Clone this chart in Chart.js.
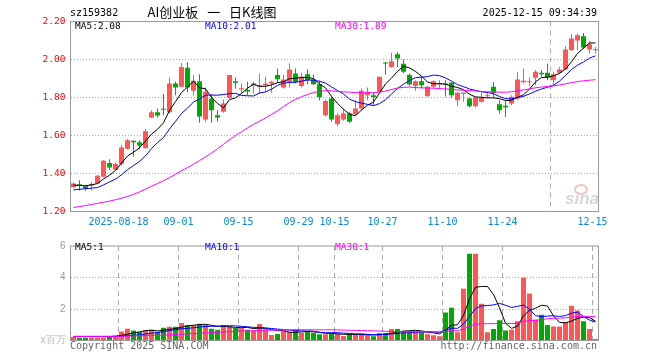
<!DOCTYPE html>
<html>
<head>
<meta charset="utf-8">
<script src="https://cdn.jsdelivr.net/npm/chart.js@4.4.1/dist/chart.umd.min.js"></script>
<style>
body{margin:0;background:#fff}
#box{position:relative;width:660px;height:360px;overflow:hidden;font-family:"DejaVu Sans Mono",monospace;font-size:10px;color:#000}
#box canvas{position:absolute;left:0}
.t{position:absolute;line-height:12px;white-space:nowrap}
</style>
</head>
<body>
<div id="box">
<canvas id="kline" width="660" height="235" style="top:0"></canvas>
<canvas id="vol" width="660" height="125" style="top:235px"></canvas>

<div class="t" style="left:70px;top:7px">sz159382</div>
<div class="t" style="left:112px;width:200px;top:5px;text-align:center;font-family:'Noto Sans CJK SC';font-size:13px;line-height:14px;word-spacing:6px">AI创业板 一 日K线图</div>
<div class="t" style="right:63px;top:7px">2025-12-15 09:34:39</div>

<div class="t" style="left:75px;top:20px;font-size:9.5px">MA5:2.08</div>
<div class="t" style="left:205px;top:20px;font-size:9.5px;color:#0000ff">MA10:2.01</div>
<div class="t" style="left:335px;top:20px;font-size:9.5px;color:#ff00ff">MA30:1.89</div>

<div class="t" style="left:75px;top:241px;font-size:9.5px">MA5:1</div>
<div class="t" style="left:205px;top:241px;font-size:9.5px;color:#0000ff">MA10:1</div>
<div class="t" style="left:335px;top:241px;font-size:9.5px;color:#ff00ff">MA30:1</div>

<div style="position:absolute;left:574px;top:184px;width:10px;height:7px;border:2px solid #f2c4c4;border-radius:50%"></div>
<div class="t" style="left:565px;top:192px;font:italic bold 17px 'Liberation Sans';line-height:14px;color:#d6d6d6">sina</div>

<div class="t" style="left:70px;top:340px;color:#666">Copyright 2025 SINA.COM</div>
<div class="t" style="right:63px;top:340px;color:#666">http://finance.sina.com.cn</div>
</div>

<script>
// trading days, 2025-08-06 .. 2025-12-15
var dates = [
  '08-06','08-07','08-08','08-11','08-12','08-13','08-14','08-15','08-18','08-19',
  '08-20','08-21','08-22','08-25','08-26','08-27','08-28','08-29','09-01','09-02',
  '09-03','09-04','09-05','09-08','09-09','09-10','09-11','09-12','09-15','09-16',
  '09-17','09-18','09-19','09-22','09-23','09-24','09-25','09-26','09-29','09-30',
  '10-09','10-10','10-13','10-14','10-15','10-16','10-17','10-20','10-21','10-22',
  '10-23','10-24','10-27','10-28','10-29','10-30','10-31','11-03','11-04','11-05',
  '11-06','11-07','11-10','11-11','11-12','11-13','11-14','11-17','11-18','11-19',
  '11-20','11-21','11-24','11-25','11-26','11-27','11-28','12-01','12-02','12-03',
  '12-04','12-05','12-08','12-09','12-10','12-11','12-12','12-15'
];
var tickDates = ['08-18','09-01','09-15','09-29','10-15','10-27','11-10','11-24','12-15'];
var tickTexts = ['2025-08-18','09-01','09-15','09-29','10-15','10-27','11-10','11-24','12-15'];

var opens = [
  1.328,1.343,1.333,1.337,1.347,1.383,1.455,1.420,1.450,1.530,
  1.572,1.565,1.533,1.695,1.723,1.740,1.723,1.874,1.856,1.956,
  1.835,1.886,1.684,1.793,1.707,1.725,1.798,1.886,1.842,1.839,
  1.865,1.856,1.865,1.874,1.918,1.853,1.882,1.926,1.860,1.923,
  1.895,1.870,1.707,1.795,1.660,1.684,1.716,1.712,1.742,1.812,
  1.812,1.830,1.982,1.961,2.028,1.977,1.918,1.861,1.886,1.807,
  1.856,1.868,1.874,1.877,1.786,1.818,1.795,1.754,1.777,1.807,
  1.856,1.765,1.756,1.768,1.795,1.880,1.880,1.904,1.930,1.930,
  1.891,1.930,1.947,2.049,2.100,2.123,2.053,2.049
];
var highs = [
  1.352,1.365,1.340,1.355,1.392,1.470,1.475,1.457,1.550,1.582,
  1.574,1.575,1.635,1.733,1.742,1.820,1.905,1.883,1.982,1.986,
  1.918,1.923,1.853,1.817,1.733,1.790,1.918,1.905,1.874,1.883,
  1.883,1.926,1.909,1.888,1.953,1.918,1.979,1.953,1.930,1.949,
  1.918,1.890,1.790,1.804,1.716,1.742,1.725,1.786,1.847,1.853,
  1.825,1.909,1.988,2.035,2.040,2.000,1.926,1.891,1.909,1.860,
  1.891,1.891,1.891,1.882,1.830,1.825,1.800,1.804,1.825,1.830,
  1.882,1.786,1.782,1.812,1.935,1.953,1.905,1.944,1.944,1.979,
  1.935,1.961,2.070,2.133,2.137,2.140,2.098,2.067
];
var lows = [
  1.325,1.310,1.310,1.310,1.343,1.380,1.420,1.418,1.440,1.527,
  1.490,1.527,1.530,1.692,1.695,1.707,1.716,1.812,1.853,1.828,
  1.810,1.667,1.670,1.667,1.672,1.720,1.795,1.847,1.820,1.812,
  1.820,1.820,1.830,1.825,1.877,1.847,1.853,1.874,1.853,1.870,
  1.865,1.786,1.700,1.672,1.649,1.677,1.667,1.707,1.730,1.786,
  1.760,1.825,1.921,1.958,1.961,1.928,1.862,1.835,1.847,1.804,
  1.851,1.847,1.804,1.800,1.754,1.777,1.747,1.747,1.772,1.795,
  1.800,1.716,1.698,1.760,1.786,1.874,1.860,1.865,1.909,1.891,
  1.865,1.926,1.944,2.046,2.049,2.055,2.032,2.032
];
var closes = [
  1.347,1.335,1.322,1.345,1.388,1.467,1.432,1.450,1.537,1.575,
  1.565,1.548,1.623,1.723,1.705,1.735,1.874,1.853,1.961,1.853,
  1.888,1.700,1.830,1.733,1.695,1.768,1.918,1.877,1.849,1.832,
  1.874,1.865,1.874,1.883,1.896,1.895,1.947,1.882,1.909,1.891,
  1.870,1.803,1.782,1.684,1.707,1.716,1.672,1.742,1.835,1.830,
  1.803,1.909,1.979,1.991,2.005,1.935,1.868,1.886,1.865,1.856,
  1.886,1.874,1.868,1.812,1.825,1.825,1.754,1.800,1.800,1.812,
  1.825,1.733,1.749,1.804,1.895,1.888,1.886,1.935,1.923,1.905,
  1.923,1.947,2.053,2.110,2.128,2.063,2.080,2.053
];
var ma5 = [
  1.339,1.337,1.335,1.340,1.347,1.371,1.391,1.416,1.455,1.492,
  1.512,1.535,1.570,1.607,1.633,1.667,1.732,1.778,1.826,1.855,
  1.886,1.851,1.846,1.801,1.769,1.745,1.789,1.798,1.821,1.849,
  1.870,1.859,1.859,1.866,1.878,1.883,1.899,1.901,1.906,1.905,
  1.900,1.871,1.851,1.806,1.769,1.738,1.712,1.704,1.734,1.759,
  1.776,1.824,1.871,1.902,1.937,1.964,1.956,1.937,1.912,1.882,
  1.872,1.873,1.870,1.859,1.853,1.841,1.817,1.803,1.801,1.798,
  1.798,1.794,1.784,1.785,1.801,1.814,1.844,1.882,1.905,1.907,
  1.914,1.927,1.950,1.988,2.032,2.060,2.087,2.087
];
var ma10 = [
  1.314,1.317,1.320,1.323,1.326,1.340,1.356,1.370,1.393,1.420,
  1.442,1.463,1.493,1.531,1.563,1.589,1.634,1.674,1.716,1.744,
  1.776,1.792,1.812,1.813,1.812,1.816,1.820,1.822,1.811,1.809,
  1.808,1.824,1.829,1.844,1.864,1.876,1.879,1.880,1.886,1.892,
  1.891,1.885,1.876,1.856,1.837,1.819,1.792,1.778,1.770,1.764,
  1.757,1.768,1.788,1.818,1.848,1.870,1.890,1.904,1.907,1.910,
  1.918,1.915,1.903,1.886,1.868,1.857,1.845,1.837,1.830,1.826,
  1.820,1.805,1.794,1.793,1.800,1.806,1.819,1.833,1.845,1.854,
  1.864,1.886,1.916,1.947,1.970,1.987,2.007,2.019
];
var ma30 = [
  1.221,1.226,1.231,1.237,1.243,1.249,1.255,1.262,1.270,1.279,
  1.290,1.303,1.318,1.333,1.347,1.362,1.378,1.396,1.414,1.431,
  1.449,1.468,1.487,1.508,1.530,1.554,1.578,1.600,1.620,1.640,
  1.658,1.675,1.692,1.710,1.730,1.752,1.773,1.790,1.804,1.816,
  1.826,1.833,1.836,1.835,1.832,1.830,1.828,1.826,1.825,1.825,
  1.825,1.828,1.834,1.842,1.850,1.853,1.855,1.852,1.851,1.850,
  1.849,1.847,1.845,1.843,1.840,1.838,1.836,1.834,1.832,1.830,
  1.829,1.828,1.828,1.830,1.835,1.840,1.845,1.851,1.855,1.858,
  1.861,1.866,1.872,1.878,1.884,1.888,1.891,1.894
];
// volume, millions of shares
var volumes = [
  0.22,0.18,0.18,0.18,0.18,0.18,0.22,0.22,0.57,0.75,
  0.63,0.55,0.63,0.69,0.55,0.81,0.87,0.87,1.11,0.99,
  0.99,1.07,0.99,0.75,0.69,0.99,0.91,0.79,0.79,0.69,
  0.63,1.05,0.71,0.35,0.41,0.59,0.55,0.69,0.47,0.59,
  0.47,0.39,0.39,0.43,0.43,0.29,0.39,0.39,0.39,0.33,
  0.27,0.47,0.47,0.73,0.73,0.59,0.59,0.59,0.53,0.39,
  0.33,0.27,1.78,2.08,0.53,3.28,5.51,5.51,2.34,0.53,
  0.73,1.29,0.63,0.69,1.23,4.00,2.98,1.33,1.64,0.99,
  0.89,0.89,1.17,2.20,1.90,1.23,0.73,0.09
];
var volMa5 = [
  0.25,0.25,0.25,0.25,0.25,0.25,0.25,0.27,0.33,0.40,
  0.48,0.54,0.63,0.65,0.61,0.65,0.71,0.76,0.84,0.93,
  0.97,1.01,1.03,0.96,0.90,0.90,0.87,0.83,0.83,0.83,
  0.76,0.79,0.77,0.69,0.63,0.62,0.52,0.52,0.54,0.58,
  0.55,0.52,0.46,0.45,0.42,0.39,0.39,0.39,0.38,0.36,
  0.35,0.37,0.39,0.45,0.53,0.60,0.62,0.65,0.61,0.54,
  0.49,0.42,0.66,0.97,1.00,1.59,2.64,3.38,3.43,3.43,
  2.92,2.08,1.10,0.77,0.91,1.57,1.91,2.05,2.24,2.19,
  1.57,1.15,1.12,1.23,1.41,1.48,1.45,1.23
];
var volMa10 = [
  0.26,0.26,0.26,0.26,0.26,0.26,0.26,0.27,0.29,0.31,
  0.33,0.37,0.41,0.46,0.50,0.56,0.63,0.69,0.75,0.77,
  0.81,0.86,0.89,0.90,0.91,0.93,0.94,0.93,0.90,0.87,
  0.83,0.83,0.80,0.76,0.73,0.69,0.66,0.65,0.61,0.60,
  0.59,0.52,0.49,0.50,0.50,0.47,0.45,0.42,0.42,0.39,
  0.37,0.38,0.39,0.42,0.45,0.48,0.50,0.52,0.53,0.54,
  0.54,0.52,0.65,0.79,0.77,1.04,1.53,2.02,2.20,2.22,
  2.26,2.36,2.24,2.10,2.17,2.25,1.99,1.58,1.51,1.55,
  1.57,1.53,1.58,1.73,1.80,1.52,1.30,1.17
];
var volMa30 = [
  0.26,0.26,0.26,0.26,0.26,0.26,0.26,0.26,0.27,0.28,
  0.29,0.30,0.31,0.32,0.33,0.34,0.36,0.38,0.40,0.42,
  0.44,0.46,0.48,0.50,0.52,0.54,0.56,0.58,0.60,0.61,
  0.62,0.64,0.65,0.66,0.67,0.67,0.68,0.68,0.68,0.68,
  0.68,0.68,0.68,0.68,0.67,0.66,0.65,0.64,0.63,0.62,
  0.61,0.60,0.58,0.57,0.56,0.55,0.55,0.55,0.55,0.55,
  0.55,0.55,0.58,0.62,0.62,0.74,0.90,1.03,1.07,1.07,
  1.07,1.08,1.08,1.08,1.09,1.22,1.26,1.27,1.33,1.38,
  1.41,1.42,1.44,1.48,1.52,1.53,1.53,1.53
];

var RED = '#ff5555', GREEN = '#00aa00', GRID = '#aaaaaa', NONE = 'rgba(0,0,0,0)';
var colors = closes.map(function(c, i){ return c >= opens[i] ? RED : GREEN; });

function xGridColor(ctx){
  return tickDates.indexOf(dates[ctx.index]) >= 0 ? GRID : NONE;
}
function lineSet(data, color){
  return {type:'line', data:data, borderColor:color, borderWidth:1, pointRadius:0, tension:0, fill:false, order:0};
}

// grey frame round the plot, like the original
var frame = {
  id: 'frame',
  beforeDatasetsDraw: function(chart){
    var a = chart.chartArea, ctx = chart.ctx;
    ctx.save();
    ctx.strokeStyle = '#999';
    ctx.lineWidth = 1;
    ctx.strokeRect(a.left, a.top, a.right - a.left, a.bottom - a.top);
    ctx.restore();
  }
};

var xBase = {
  offset: true,
  grid: {offset: true, color: xGridColor, drawTicks: false},
  border: {display: false, dash: [5, 4]}
};

new Chart(document.getElementById('kline'), {
  type: 'bar',
  data: {
    labels: dates,
    datasets: [
      {data: lows.map(function(l, i){ return [l, highs[i]]; }), backgroundColor: colors,
       barThickness: 1, grouped: false, inflateAmount: 0, order: 2},
      {data: opens.map(function(o, i){ return [o, closes[i]]; }), backgroundColor: colors,
       barThickness: 5, minBarLength: 1, grouped: false, inflateAmount: 0, order: 1},
      lineSet(ma30, '#ff00ff'),
      lineSet(ma10, '#0000ff'),
      lineSet(ma5, '#000000')
    ]
  },
  options: {
    responsive: false,
    animation: false,
    events: [],
    devicePixelRatio: 1,
    layout: {padding: {top: 21.5, right: 61.5, left: 0, bottom: 0}},
    plugins: {legend: {display: false}, tooltip: {enabled: false}},
    scales: {
      x: Object.assign({}, xBase, {
        ticks: {
          autoSkip: false, maxRotation: 0, minRotation: 0, padding: 5, labelOffset: -3,
          color: '#0a89d4', font: {family: "'DejaVu Sans Mono', monospace", size: 10},
          callback: function(v, i){
            var k = tickDates.indexOf(dates[i]);
            return k < 0 ? null : tickTexts[k];
          }
        },
        afterFit: function(s){ s.height = 23.5; }
      }),
      y: {
        min: 1.2, max: 2.2,
        grid: {drawTicks: false, color: function(c){
          return c.tick && c.tick.value > 1.21 && c.tick.value < 2.19 ? GRID : NONE; }},
        border: {display: false, dash: [1, 2]},
        ticks: {stepSize: 0.2, padding: 5, color: '#ff0000',
          font: {family: "'DejaVu Sans Mono', monospace", size: 9.5},
          callback: function(v){ return v.toFixed(2); }},
        afterFit: function(s){ s.width = 70.5; }
      }
    }
  },
  plugins: [frame]
});

new Chart(document.getElementById('vol'), {
  type: 'bar',
  data: {
    labels: dates,
    datasets: [
      {data: volumes, backgroundColor: colors, barThickness: 5, inflateAmount: 0, order: 1},
      lineSet(volMa30, '#ff00ff'),
      lineSet(volMa10, '#0000ff'),
      lineSet(volMa5, '#000000')
    ]
  },
  options: {
    responsive: false,
    animation: false,
    events: [],
    devicePixelRatio: 1,
    layout: {padding: {top: 6.5, right: 61.5, left: 0, bottom: 0}},
    plugins: {legend: {display: false}, tooltip: {enabled: false}},
    scales: {
      x: Object.assign({}, xBase, {
        ticks: {display: false, autoSkip: false},
        afterFit: function(s){ s.height = 19.5; }
      }),
      y: {
        min: 0, max: 6,
        grid: {drawTicks: false, color: function(c){
          return c.tick && c.tick.value > 0 && c.tick.value < 6 ? GRID : NONE; }},
        border: {display: false, dash: [1, 2]},
        ticks: {stepSize: 2, padding: 5,
          color: function(c){ return c.tick.value === 0 ? '#bbbbbb' : '#999999'; },
          font: {family: "'Liberation Sans', sans-serif", size: 10},
          callback: function(v){ return v === 0 ? 'x百万' : String(v); }},
        afterFit: function(s){ s.width = 70.5; }
      }
    }
  },
  plugins: [frame]
});
</script>
</body>
</html>
